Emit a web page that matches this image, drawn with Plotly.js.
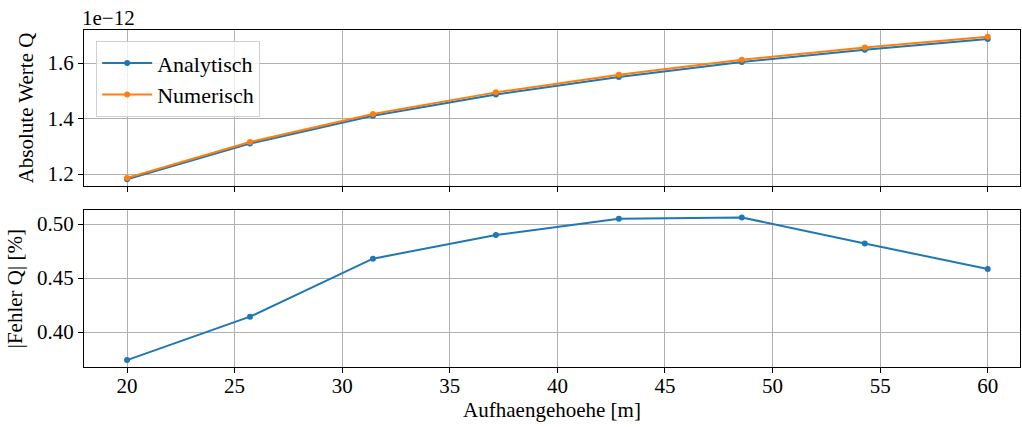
<!DOCTYPE html>
<html><head><meta charset="utf-8">
<script src="https://cdn.plot.ly/plotly-3.0.1.min.js"></script>
<style>
html, body { margin: 0; padding: 0; background: #fff; }
#c svg text { font-family: 'Liberation Serif', 'Times New Roman', serif !important; }
</style>
</head>
<body>
<div id="c"></div>
<script>
// Data
const hoehe = [20, 25.714, 31.429, 37.143, 42.857, 48.571, 54.286, 60];
const qAnalytisch = [1.1815e-12, 1.3100e-12, 1.4100e-12, 1.4870e-12, 1.5500e-12, 1.6040e-12, 1.6480e-12, 1.6870e-12];
const qNumerisch  = [1.1859e-12, 1.3154e-12, 1.4166e-12, 1.4943e-12, 1.5578e-12, 1.6121e-12, 1.6559e-12, 1.6947e-12];
const fehlerProzent = [0.374, 0.4142, 0.4679, 0.4898, 0.5049, 0.5061, 0.482, 0.4583];
const topTickVals = [1.2e-12, 1.4e-12, 1.6e-12];
const topTickText = ['1.2', '1.4', '1.6'];
const bottomTickVals = [0.40, 0.45, 0.50];
const bottomTickText = ['0.40', '0.45', '0.50'];
const xTickVals = [20, 25, 30, 35, 40, 45, 50, 55, 60];

const BLUE = '#1f77b4', ORANGE = '#ff7f0e';
const FAM = 'serif';

const traces = [
  {x: hoehe, y: qAnalytisch, name: 'Analytisch', mode: 'lines+markers', xaxis: 'x', yaxis: 'y',
   line: {color: BLUE, width: 2}, marker: {color: BLUE, size: 6}},
  {x: hoehe, y: qNumerisch, name: 'Numerisch', mode: 'lines+markers', xaxis: 'x', yaxis: 'y',
   line: {color: ORANGE, width: 2}, marker: {color: ORANGE, size: 6}},
  {x: hoehe, y: fehlerProzent, name: 'Fehler', mode: 'lines+markers', xaxis: 'x2', yaxis: 'y2', showlegend: false,
   line: {color: BLUE, width: 2}, marker: {color: BLUE, size: 6}}
];

function axis(extra) {
  return Object.assign({
    showline: true, mirror: true, linecolor: '#000', linewidth: 1,
    ticks: 'outside', ticklen: 5, tickwidth: 1, tickcolor: '#000',
    showgrid: true, gridcolor: '#b0b0b0', gridwidth: 1, zeroline: false,
    tickfont: {family: FAM, size: 21, color: '#000'}
  }, extra);
}

const layout = {
  width: 1022, height: 427,
  margin: {l: 84, r: 2, t: 30, b: 60},
  paper_bgcolor: '#fff', plot_bgcolor: '#fff',
  font: {family: FAM, size: 21, color: '#000'},
  showlegend: true,
  legend: {x: 0.013, y: 0.967, xanchor: 'left', yanchor: 'top',
    bgcolor: 'rgba(255,255,255,0.8)', bordercolor: '#d0d0d0', borderwidth: 1,
    itemwidth: 50,
    font: {family: FAM, size: 22, color: '#000'}, tracegroupgap: 0},
  xaxis: axis({domain: [0, 1], anchor: 'y', range: [18, 61.5], tickvals: xTickVals, showticklabels: false}),
  yaxis: axis({domain: [0.5371, 1], anchor: 'x', range: [1.157e-12, 1.719e-12],
    tickvals: topTickVals, ticktext: topTickText,
    title: {text: 'Absolute Werte Q', font: {family: FAM, size: 21, color: '#000'}, standoff: 8}}),
  xaxis2: axis({domain: [0, 1], anchor: 'y2', range: [18, 61.5], tickvals: xTickVals,
    ticklabelstandoff: -5,
    title: {text: 'Aufhaengehoehe [m]', font: {family: FAM, size: 21, color: '#000'}, standoff: 2}}),
  yaxis2: axis({domain: [0, 0.4647], anchor: 'x2', range: [0.3676, 0.5126],
    tickvals: bottomTickVals, ticktext: bottomTickText,
    title: {text: '|Fehler Q| [%]', font: {family: FAM, size: 21, color: '#000'}, standoff: 8}}),
  annotations: [
    {text: '1e\u221212', xref: 'paper', yref: 'paper', x: 0, y: 1, xanchor: 'left', yanchor: 'bottom',
     showarrow: false, font: {family: FAM, size: 21, color: '#000'}, xshift: -4, yshift: -2}
  ]
};

Plotly.newPlot('c', traces, layout, {displayModeBar: false});
</script>
</body></html>
